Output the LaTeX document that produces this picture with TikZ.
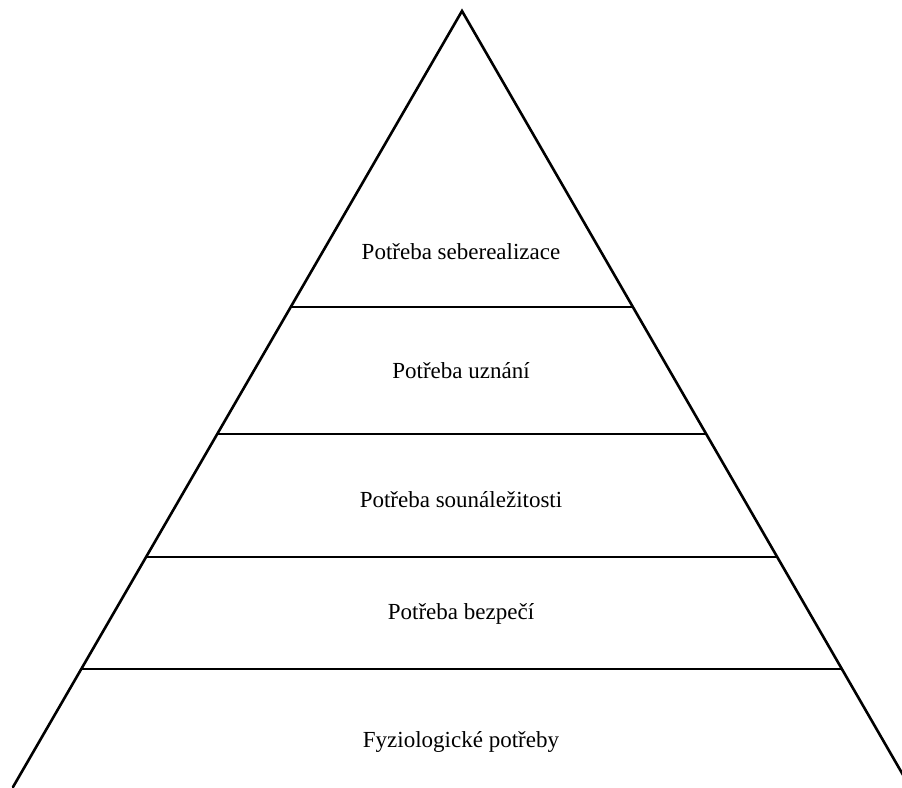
\documentclass[tikz,border=0pt]{standalone}
\usepackage{fontspec}
\setmainfont{Liberation Serif}
\usetikzlibrary{calc}
\begin{document}
\begin{tikzpicture}[x=1pt,y=-1pt,
  side/.style={line width=2.6pt,line cap=round},
  tier/.style={line width=1.9pt},
  lbl/.style={font=\fontsize{23}{27}\selectfont,inner sep=0pt}]
\useasboundingbox (0,0) rectangle (902,787);
\clip (0,0) rectangle (902,787);
\coordinate (apex) at (462,11);
\coordinate (bl) at (13,787);
\coordinate (br) at (910,787);
\draw[side] (bl) -- (apex) -- (br);
% tier lines at y = 307, 434, 557, 669  (t = (y-11)/776)
\foreach \n/\t in {a/0.3814,b/0.5451,c/0.7036,d/0.8479}{
  \coordinate (L\n) at ($(apex)!\t!(bl)$);
  \coordinate (R\n) at ($(apex)!\t!(br)$);
  \draw[tier] (L\n) -- (R\n);
}
\node[lbl] (t1) at (461,252) {Potřeba seberealizace};
\node[lbl] (t2) at (461,371) {Potřeba uznání};
\node[lbl] (t3) at (461,500) {Potřeba sounáležitosti};
\node[lbl] (t4) at (461,614) {Potřeba bezpečí};
\node[lbl] (t5) at (461,742) {Fyziologické potřeby};
\end{tikzpicture}
\end{document}
